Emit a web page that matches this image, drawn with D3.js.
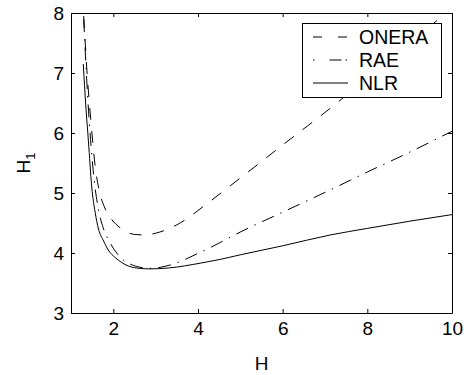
<!DOCTYPE html>
<html>
<head>
<meta charset="utf-8">
<script src="https://cdn.jsdelivr.net/npm/d3@7"></script>
<style>
  body { margin: 0; background: #fff; }
  text { font-family: "Liberation Sans", Arial, sans-serif; fill: #000; }
</style>
</head>
<body>
<div id="container"></div>
<script>
/**
 * DATA
 * */
const onera = [
  [1.30, 7.95], [1.38, 7.0], [1.47, 6.2], [1.57, 5.45], [1.68, 5.0], [1.8, 4.75],
  [1.95, 4.57], [2.2, 4.4], [2.5, 4.31], [2.75, 4.3], [3.0, 4.33], [3.5, 4.47],
  [4.3, 4.87], [5, 5.25], [6, 5.8], [7.12, 6.41], [8, 6.92], [9, 7.5], [10, 8.08]
];
const rae = [
  [1.30, 7.9], [1.37, 6.9], [1.45, 6.0], [1.55, 5.2], [1.65, 4.72], [1.76, 4.42],
  [1.9, 4.2], [2.08, 4.0], [2.24, 3.88], [2.45, 3.8], [2.7, 3.755], [2.9, 3.745],
  [3.34, 3.8], [4.05, 4.01], [4.4, 4.13], [5, 4.35], [6, 4.68], [7.12, 5.05],
  [8, 5.35], [9, 5.68], [10, 6.03]
];
const nlr = [
  [1.29, 7.15], [1.35, 6.45], [1.41, 5.88], [1.49, 5.1], [1.57, 4.68], [1.65, 4.4],
  [1.77, 4.2], [1.88, 4.05], [2.05, 3.92], [2.2, 3.84], [2.5, 3.755], [2.85, 3.735],
  [3.3, 3.75], [4.05, 3.83], [4.5, 3.89], [5, 3.97], [6, 4.12], [7.12, 4.3],
  [8, 4.41], [9, 4.53], [10, 4.64]
];
const seriesNames = ["ONERA", "RAE", "NLR"];
const xTicks = [2, 4, 6, 8, 10];
const yTicks = [3, 4, 5, 6, 7, 8];

/**
 * CONSTANTS
 * */
const width = 474,
  height = 375,
  margin = { top: 13, right: 22, bottom: 62, left: 71 };

const dashes = { ONERA: "12,11", RAE: "13,7,1.5,7", NLR: null };
const legendDashes = { ONERA: "9,16", RAE: "1.5,15,12,4,1.5,20", NLR: null };

const svg = d3.select("#container")
  .append("svg")
  .attr("width", width)
  .attr("height", height);

const x = d3.scaleLinear().domain([1, 10]).range([margin.left, width - margin.right]);
const y = d3.scaleLinear().domain([3, 8]).range([height - margin.bottom, margin.top]);

svg.append("clipPath").attr("id", "clip")
  .append("rect")
  .attr("x", margin.left).attr("y", margin.top)
  .attr("width", width - margin.left - margin.right)
  .attr("height", height - margin.top - margin.bottom);

// curves
const line = d3.line()
  .x(d => x(d[0]))
  .y(d => y(d[1]))
  .curve(d3.curveMonotoneX);

const data = [onera, rae, nlr];
svg.append("g")
  .attr("clip-path", "url(#clip)")
  .selectAll("path")
  .data(data)
  .join("path")
  .attr("d", line)
  .attr("fill", "none")
  .attr("stroke", "#000")
  .attr("stroke-width", 1)
  .attr("stroke-dasharray", (d, i) => dashes[seriesNames[i]]);

// axes (box with inward ticks on all sides)
svg.append("g")
  .attr("transform", `translate(0,${height - margin.bottom})`)
  .call(d3.axisBottom(x).tickValues(xTicks).tickSizeInner(-4).tickSizeOuter(0).tickPadding(9).tickFormat(d3.format("d")));
svg.append("g")
  .attr("transform", `translate(${margin.left},0)`)
  .call(d3.axisLeft(y).tickValues(yTicks).tickSizeInner(-4).tickSizeOuter(0).tickPadding(7).tickFormat(d3.format("d")));
svg.append("g")
  .attr("transform", `translate(0,${margin.top})`)
  .call(d3.axisTop(x).tickValues(xTicks).tickSizeInner(-4).tickSizeOuter(0).tickFormat(""));
svg.append("g")
  .attr("transform", `translate(${width - margin.right},0)`)
  .call(d3.axisRight(y).tickValues(yTicks).tickSizeInner(-4).tickSizeOuter(0).tickFormat(""));

svg.selectAll(".domain, .tick line").attr("stroke", "#000");
svg.selectAll(".tick text")
  .attr("font-size", 19)
  .attr("font-family", "Liberation Sans, Arial, sans-serif")
  .attr("fill", "#000");

// axis labels
svg.append("text")
  .attr("x", (x.range()[0] + x.range()[1]) / 2)
  .attr("y", 370)
  .attr("text-anchor", "middle")
  .attr("font-size", 19)
  .text("H");

const yl = svg.append("text")
  .attr("transform", `translate(30,${(y.range()[0] + y.range()[1]) / 2}) rotate(-90)`)
  .attr("text-anchor", "middle")
  .attr("font-size", 19);
yl.append("tspan").text("H");
yl.append("tspan").attr("font-size", 13).attr("dy", 5).text("1");

// legend
const legend = svg.append("g");
legend.append("rect")
  .attr("x", 302.5).attr("y", 23.5)
  .attr("width", 139).attr("height", 74)
  .attr("fill", "#fff").attr("stroke", "#000");

const rows = legend.selectAll("g.row")
  .data(seriesNames)
  .join("g")
  .attr("class", "row")
  .attr("transform", (d, i) => `translate(0,${37 + i * 23})`);
rows.append("line")
  .attr("x1", 313).attr("x2", 348)
  .attr("stroke", "#000")
  .attr("stroke-dasharray", d => legendDashes[d]);
rows.append("text")
  .attr("x", 359)
  .attr("dy", "0.35em")
  .attr("font-size", 19.5)
  .text(d => d);
</script>
</body>
</html>
